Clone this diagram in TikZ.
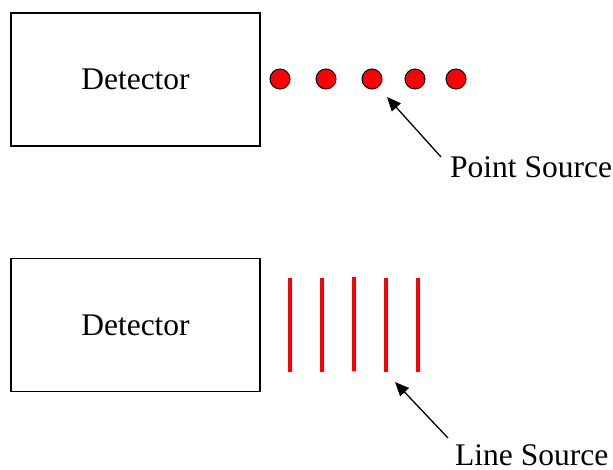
\documentclass[tikz,border=0pt]{standalone}
\usepackage{fontspec}
\setmainfont{Liberation Serif}
\usetikzlibrary{arrows.meta}
\begin{document}
\begin{tikzpicture}[x=1pt,y=-1pt,
  detbox/.style={draw=black,line width=1.6pt,minimum width=249pt,minimum height=133pt,inner sep=0pt,font=\fontsize{31.5}{36}\selectfont},
  dot/.style={circle,draw=black,line width=1pt,fill=red,minimum size=20pt,inner sep=0pt},
  redline/.style={fill=red,draw=none,minimum width=3.3pt,minimum height=94pt,inner sep=0pt},
  lbl/.style={font=\fontsize{31.5}{36}\selectfont,inner sep=0pt,anchor=base west},
  pointer/.style={line width=1.3pt,-{Triangle[length=14pt,width=12pt]}}]
\useasboundingbox (0,0) rectangle (613,469);
% top
\node[detbox] (d1) at (135.5,79.5) {Detector};
\node[dot] (p1) at (280,79) {};
\node[dot] (p2) at (326,79) {};
\node[dot] (p3) at (372,79) {};
\node[dot] (p4) at (415,79) {};
\node[dot] (p5) at (456,79) {};
\node[lbl] (ps) at (450,177) {Point Source};
\coordinate (pt) at (441,157);
\coordinate (ptip) at (387,97);
\draw[pointer] (pt) -- (ptip);
% bottom
\node[detbox] (d2) at (135.5,325) {Detector};
\node[redline] (l1) at (290,325) {};
\node[redline] (l2) at (322,325) {};
\node[redline] (l3) at (354,324) {};
\node[redline] (l4) at (386,325) {};
\node[redline] (l5) at (418,325) {};
\node[lbl] (ls) at (455,465) {Line Source};
\coordinate (lt) at (448,438);
\coordinate (ltip) at (395,382);
\draw[pointer] (lt) -- (ltip);
\end{tikzpicture}
\end{document}
